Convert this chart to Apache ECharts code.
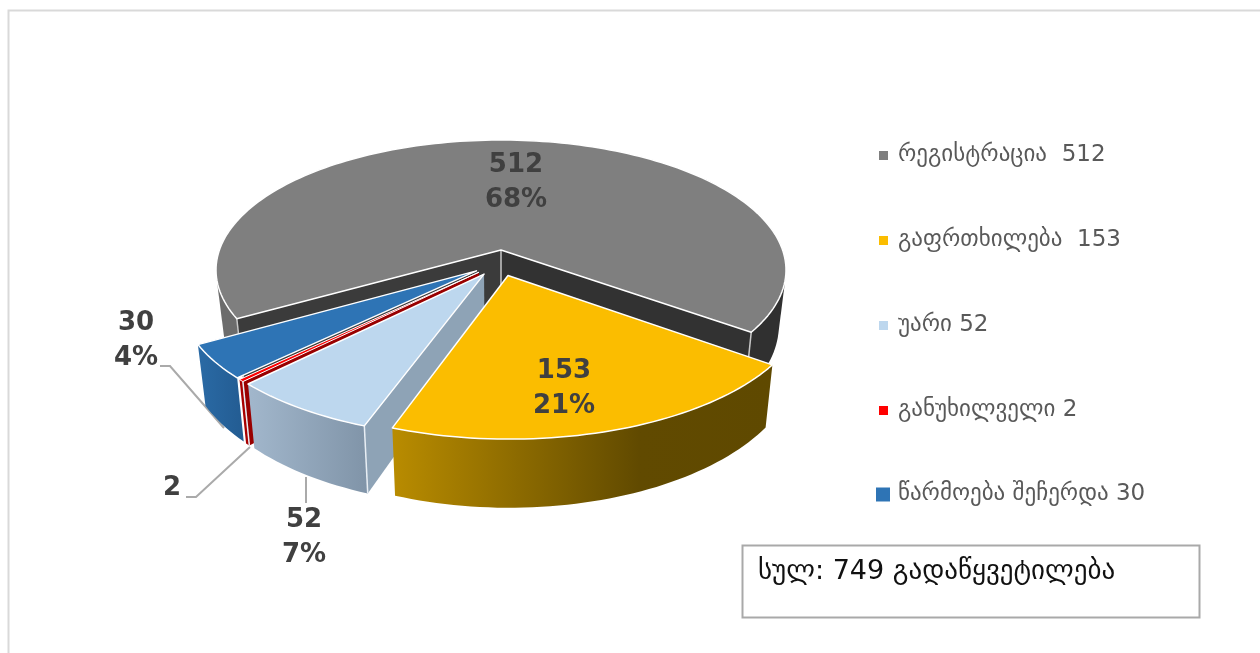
<!DOCTYPE html>
<html><head><meta charset="utf-8">
<style>html,body{margin:0;padding:0;background:#fff}#c{width:1260px;height:653px}</style>
<script src="https://cdn.jsdelivr.net/npm/echarts@6/dist/echarts.min.js"></script>
</head><body><div id="c"></div>
<script>
const categories = ['რეგისტრაცია  512','გაფრთხილება  153','უარი 52','განუხილველი 2','წარმოება შეჩერდა 30'];
const values = [512,153,52,2,30];
const percentLabels = ['68%','21%','7%','','4%'];
const topColors = ['#7f7f7f','#fbbd00','#bdd7ee','#ff0000','#2e74b5'];
const startAngle = 240, explode = 0.1;
const total = values.reduce((a,b)=>a+b,0);

// projection of the pie plane on the screen (perspective tilt)
const P = {ox:501, oy:250, A:281.6, B:126.9, k:0.1538};
function proj(X,Z){const w=1+P.k*Z;return [P.ox+P.A*X/w, P.oy-P.B*Z/w];}
function drop(p){return [P.ox+(p[0]-P.ox)*0.975, p[1]*1.08+33.5];}
const rad=d=>d*Math.PI/180;
const grayMid = startAngle+values[0]/total*180;

const sideFill = [
 null,
 {type:'linear',x:0,y:0,x2:1,y2:0,colorStops:[{offset:0,color:'#b98c00'},{offset:0.65,color:'#614a00'},{offset:1,color:'#5f4900'}]},
 {type:'linear',x:0,y:0,x2:1,y2:0,colorStops:[{offset:0,color:'#a2b7cc'},{offset:1,color:'#8094a8'}]},
 '#a80000',
 {type:'linear',x:0,y:0,x2:1,y2:0,colorStops:[{offset:0,color:'#2a6aa5'},{offset:1,color:'#235c92'}]}
];
const wallFill = ['#363636','#9a7400','#8ea3b6','#990000','#235c92'];
function hull(pts){
  const s=pts.slice().sort((a,b)=>a[0]-b[0]||a[1]-b[1]);
  const cross=(o,a,b)=>(a[0]-o[0])*(b[1]-o[1])-(a[1]-o[1])*(b[0]-o[0]);
  const half=list=>{const h=[];list.forEach(p=>{while(h.length>1&&cross(h[h.length-2],h[h.length-1],p)<=0)h.pop();h.push(p);});h.pop();return h;};
  return half(s).concat(half(s.slice().reverse()));
}
// label centres and leader lines
const labelPos = [[516,183],[564,388.5],[304,538],[172,488],[136,341]];
const leaders = [null,null,[[306,477],[306,503]],[[250,447],[196,497],[186,497]],[[160,366],[170,366],[224,428]]];

function makeRender(idx){
  return function(params,api){
    const v = api.value(0);
    let before = 0; for(let i=0;i<idx;i++) before+=values[i];
    const a0 = startAngle+before/total*360, a1 = a0+v/total*360, mid=(a0+a1)/2;
    const off = [explode*(Math.sin(rad(mid))-Math.sin(rad(grayMid))), explode*(Math.cos(rad(mid))-Math.cos(rad(grayMid)))];
    const r = idx===0 ? 1 : 1.017;
    const pt = a=>proj(off[0]+r*Math.sin(rad(a)), off[1]+r*Math.cos(rad(a)));
    const apex = proj(off[0],off[1]);
    const arc=[]; const n=Math.max(2,Math.ceil((a1-a0)/1.5));
    for(let i=0;i<=n;i++) arc.push(pt(a0+(a1-a0)*i/n));
    const arcB = arc.map(drop);
    const startC = arc[0], endC = arc[arc.length-1];
    const kids=[];
    if(leaders[idx]) kids.push({type:'polyline',shape:{points:leaders[idx]},style:{stroke:'#aaaaaa',lineWidth:2,fill:null}});
    // outer curved side: the big slice turns past both ends of the ellipse, so each half is a hull
    if(idx===0){
      const half=Math.round(n*(360-a0)/(a1-a0));
      const L=arc.slice(0,half+1), R=arc.slice(half);
      kids.push({type:'polygon',shape:{points:hull(L.concat(L.map(drop)))},style:{fill:'#6c6c6c'}});
      kids.push({type:'polygon',shape:{points:hull(R.concat(R.map(drop)))},style:{fill:'#303030'}});
    } else {
      kids.push({type:'polygon',shape:{points:arc.concat(arcB.slice().reverse())},style:{fill:sideFill[idx]}});
    }
    // cut walls
    const w1=[apex,startC,drop(startC),drop(apex)], w2=[apex,endC,drop(endC),drop(apex)];
    if(idx===0){
      kids.push({type:'polygon',shape:{points:w1},style:{fill:'#3b3b3b'}});
      kids.push({type:'polygon',shape:{points:w2},style:{fill:'#323232'}});
      [apex,startC,endC].forEach(p=>kids.push({type:'line',shape:{x1:p[0],y1:p[1],x2:drop(p)[0],y2:drop(p)[1]},style:{stroke:'#c8c8c8',lineWidth:1.5}}));
    } else if(idx===2||idx===3){
      kids.push({type:'polygon',shape:{points:w1},style:{fill:wallFill[idx]}});
      kids.push({type:'line',shape:{x1:startC[0],y1:startC[1],x2:drop(startC)[0],y2:drop(startC)[1]},style:{stroke:'#e8eef4',lineWidth:1.5}});
    }
    // top face
    kids.push({type:'polygon',shape:{points:[apex].concat(arc)},style:{fill:topColors[idx],stroke:'#ffffff',lineWidth:idx===3?1:1.5,opacity:1,lineJoin:'round'}});
    // data label
    const txt = percentLabels[idx] ? v+'\n'+percentLabels[idx] : String(v);
    kids.push({type:'text',style:{text:txt,x:labelPos[idx][0],y:labelPos[idx][1],align:'center',verticalAlign:'middle',
      fontFamily:'DejaVu Sans',fontWeight:'bold',fontSize:26,lineHeight:35,fill:'#404040'}});
    return {type:'group',children:kids};
  };
}
const drawOrder=[0,4,3,2,1];
const series = categories.map((name,i)=>({
  type:'custom',name,coordinateSystem:'none',silent:true,animation:false,
  z:2+drawOrder.indexOf(i),
  itemStyle:{color:topColors[i]},
  data:[[values[i]]],
  renderItem:makeRender(i)
}));
const legendText=(pad)=>({fontFamily:'DejaVu Sans',fontSize:23,color:'#595959',padding:[0,0,0,pad]});
const chart = echarts.init(document.getElementById('c'),null,{renderer:'canvas'});
chart.setOption({
  animation:false,
  backgroundColor:'#ffffff',
  legend:[
    {data:categories.slice(0,4),orient:'vertical',left:874,top:139,itemWidth:9,itemHeight:9,itemGap:62,icon:'rect',selectedMode:false,textStyle:legendText(5)},
    {data:categories.slice(4),orient:'vertical',left:871,top:478,itemWidth:14,itemHeight:14,icon:'rect',selectedMode:false,textStyle:legendText(3)}
  ],
  graphic:[
    {type:'rect',z:0,shape:{x:8.5,y:10.5,width:1300,height:700},style:{fill:'#fff',stroke:'#d9d9d9',lineWidth:2}},
    {type:'rect',z:1,shape:{x:742.5,y:545.5,width:457,height:72},style:{fill:'#fff',stroke:'#a9a9a9',lineWidth:2}},
    {type:'text',z:20,style:{text:'სულ: 749 გადაწყვეტილება',x:758,y:572,verticalAlign:'middle',fontFamily:'DejaVu Sans',fontSize:27,fill:'#111'}}
  ],
  series
});
</script></body></html>
